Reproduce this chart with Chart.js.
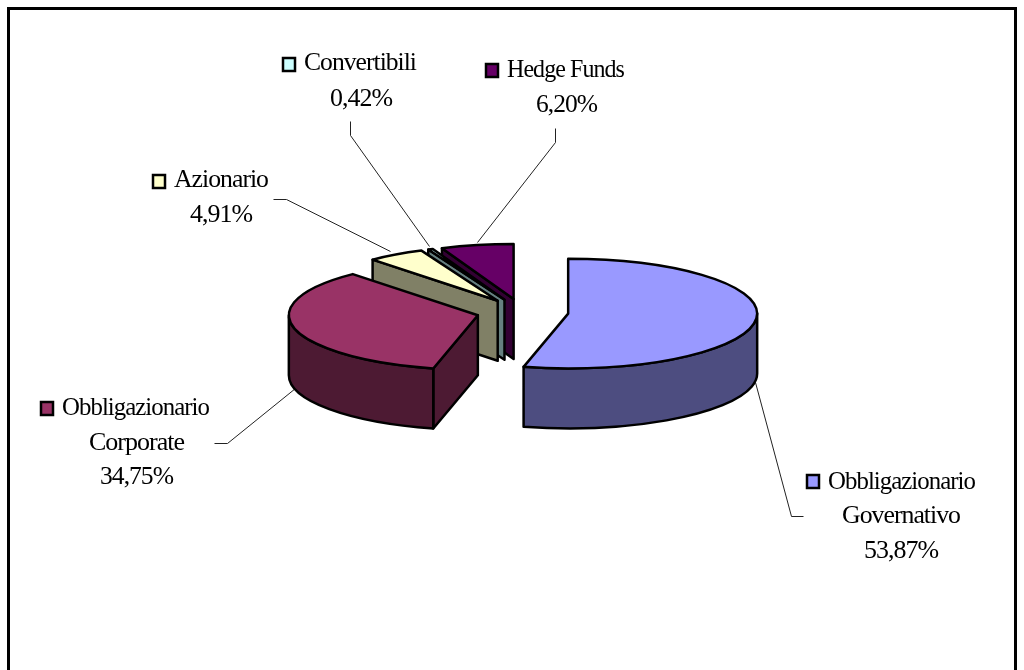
<!DOCTYPE html>
<html>
<head>
<meta charset="utf-8">
<title>Asset allocation</title>
<script src="https://cdn.jsdelivr.net/npm/chart.js@4"></script>
<style>
    html, body { margin: 0; padding: 0; background: #fff; overflow: hidden; }
    canvas { display: block; }
</style>
</head>
<body>
<canvas id="lienzo" width="1024" height="670"></canvas>
<script>
// Dati
const categorie = ["Obbligazionario Governativo", "Obbligazionario Corporate", "Azionario", "Convertibili", "Hedge Funds"];
const valori = [53.87, 34.75, 4.91, 0.42, 6.20];

// Colori: faccia superiore e lato scuro
const coloriFaccia = ["#9999ff", "#993366", "#ffffcc", "#ccffff", "#660066"];
const coloriLato = ["#4d4d80", "#4d1a33", "#808066", "#668080", "#330033"];

// Etichette: quadratino, righe di testo (x, y, larghezza), linea guida
const etichette = [
    { key: [807, 475], righe: [["Obbligazionario", 828, 489, 147], ["Governativo", 842, 523, 118]], perc: [864, 558, 74], guida: [[803, 516], [791, 516], [755, 382]] },
    { key: [41, 402], righe: [["Obbligazionario", 62, 415, 147], ["Corporate", 89, 450, 96]], perc: [100, 484, 73], guida: [[214, 443], [227, 443], [295, 388]] },
    { key: [153, 175], righe: [["Azionario", 174, 187, 94]], perc: [190, 222, 62], guida: [[273, 199], [286, 199], [390, 251]] },
    { key: [283, 58], righe: [["Convertibili", 304, 70, 112]], perc: [330, 106, 62], guida: [[350, 121], [350, 135], [429, 246]] },
    { key: [486, 64], righe: [["Hedge Funds", 507, 77, 117]], perc: [536, 112, 61], guida: [[555, 128], [555, 142], [477, 242]] }
];

const SCHIACCIA = 0.29;   // ellisse della torta
const ESPLOSO = 46;       // distanza delle fette dal centro
const SPESSORE = 60;      // altezza del cilindro

function disegnaLati(ctx, arc, i, ax, ay) {
    const r = arc.outerRadius, ry = r * SCHIACCIA;
    ctx.fillStyle = coloriLato[i];
    ctx.strokeStyle = "#000";
    ctx.lineWidth = 2.5;
    ctx.lineJoin = "round";

    // parete del taglio, si vede solo per le fette a sinistra
    if (Math.cos(arc.startAngle) < -0.001) {
        const px = ax + r * Math.cos(arc.startAngle);
        const py = ay + ry * Math.sin(arc.startAngle);
        ctx.beginPath();
        ctx.moveTo(ax, ay);
        ctx.lineTo(px, py);
        ctx.lineTo(px, py + SPESSORE);
        ctx.lineTo(ax, ay + SPESSORE);
        ctx.closePath();
        ctx.fill();
        ctx.stroke();
    }

    // bordo esterno, solo la parte davanti
    const a1 = Math.max(arc.startAngle, 0);
    const a2 = Math.min(arc.endAngle, Math.PI);
    if (a2 > a1) {
        ctx.beginPath();
        ctx.ellipse(ax, ay, r, ry, 0, a1, a2);
        ctx.ellipse(ax, ay + SPESSORE, r, ry, 0, a2, a1, true);
        ctx.closePath();
        ctx.fill();
        ctx.stroke();
    }
}

function disegnaFaccia(ctx, arc, ax, ay) {
    // il riempimento lo fa l'arco di Chart.js, schiacciato
    ctx.save();
    ctx.translate(ax, ay);
    ctx.scale(1, SCHIACCIA);
    ctx.translate(-arc.x, -arc.y);
    arc.draw(ctx);
    ctx.restore();

    const r = arc.outerRadius, ry = r * SCHIACCIA;
    ctx.strokeStyle = "#000";
    ctx.lineWidth = 2.5;
    ctx.lineJoin = "round";
    ctx.beginPath();
    ctx.moveTo(ax, ay);
    ctx.ellipse(ax, ay, r, ry, 0, arc.startAngle, arc.endAngle);
    ctx.closePath();
    ctx.stroke();
}

function disegnaEtichette(ctx) {
    etichette.forEach((e, i) => {
        // linea guida
        ctx.strokeStyle = "#222";
        ctx.lineWidth = 1;
        ctx.beginPath();
        e.guida.forEach((p, n) => {
            if (n === 0) ctx.moveTo(p[0] + 0.5, p[1] + 0.5);
            else ctx.lineTo(p[0] + 0.5, p[1] + 0.5);
        });
        ctx.stroke();

        // quadratino
        ctx.fillStyle = coloriFaccia[i];
        ctx.fillRect(e.key[0], e.key[1], 12, 13);
        ctx.strokeStyle = "#000";
        ctx.lineWidth = 2.5;
        ctx.strokeRect(e.key[0], e.key[1], 12, 13);

        // testo, stretto come nell'originale
        ctx.fillStyle = "#000";
        ctx.font = "26px 'Liberation Serif'";
        ctx.letterSpacing = "-1px";
        ctx.textBaseline = "alphabetic";
        ctx.textAlign = "left";
        e.righe.forEach(r => ctx.fillText(r[0], r[1], r[2], r[3]));
        ctx.fillText(valori[i].toFixed(2).replace(".", ",") + "%", e.perc[0], e.perc[1], e.perc[2]);
        ctx.letterSpacing = "0px";
    });
}

const torta3d = {
    id: "torta3d",
    beforeDatasetsDraw(chart) {
        const ctx = chart.ctx;
        const archi = chart.getDatasetMeta(0).data;

        // cornice, in basso esce dalla pagina
        ctx.save();
        ctx.strokeStyle = "#000";
        ctx.lineWidth = 3;
        ctx.strokeRect(8.5, 8.5, 1007, 720);

        disegnaEtichette(ctx);

        // dal fondo verso il davanti
        [4, 3, 2, 1, 0].forEach(i => {
            const arc = archi[i];
            const medio = (arc.startAngle + arc.endAngle) / 2;
            const ax = arc.x + Math.cos(medio) * ESPLOSO;
            const ay = arc.y + Math.sin(medio) * ESPLOSO * SCHIACCIA;
            disegnaLati(ctx, arc, i, ax, ay);
            disegnaFaccia(ctx, arc, ax, ay);
        });
        ctx.restore();
        return false;
    }
};

const contesto = document.getElementById("lienzo").getContext("2d");
const grafico = new Chart(contesto, {
    type: "pie",
    data: {
        labels: categorie,
        datasets: [{
            data: valori,
            backgroundColor: coloriFaccia,
            borderWidth: 0
        }]
    },
    options: {
        responsive: false,
        animation: false,
        radius: 189,
        layout: { padding: { left: 21, bottom: 46 } },
        plugins: {
            legend: { display: false },
            tooltip: { enabled: false }
        }
    },
    plugins: [torta3d]
});
</script>
</body>
</html>
